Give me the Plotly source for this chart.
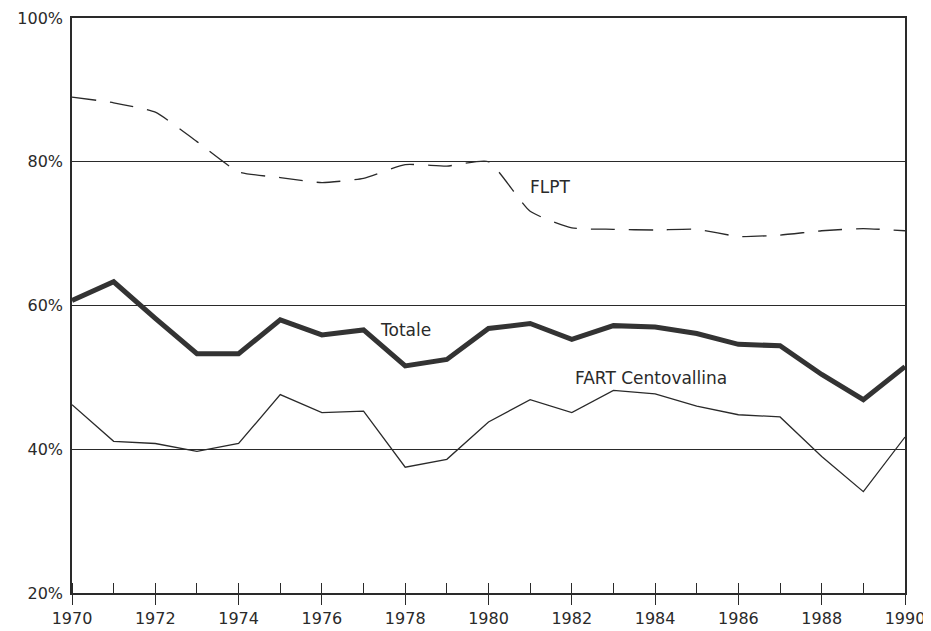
import plotly.graph_objects as go

# Quota di copertura dei costi, 1970-1990
years = list(range(1970, 1991))

flpt = [89.0, 88.2, 86.9, 82.8, 78.6, 77.8, 77.1, 77.7, 79.6, 79.4, 80.0,
        73.1, 70.8, 70.6, 70.5, 70.6, 69.6, 69.8, 70.4, 70.7, 70.4]
totale = [60.7, 63.3, 58.2, 53.3, 53.3, 58.0, 55.9, 56.6, 51.6, 52.5, 56.8,
          57.5, 55.3, 57.2, 57.0, 56.1, 54.6, 54.4, 50.4, 46.9, 51.5]
fart = [46.2, 41.1, 40.8, 39.7, 40.8, 47.6, 45.1, 45.3, 37.5, 38.6, 43.8,
        46.9, 45.1, 48.2, 47.7, 46.0, 44.8, 44.5, 39.0, 34.1, 41.7]

y_ticks = [20, 40, 60, 80, 100]
x_ticks = list(range(1970, 1991, 2))

INK = "#2a2a2a"
FONT = "DejaVu Sans, sans-serif"

fig = go.Figure()
fig.add_trace(go.Scatter(
    x=years, y=flpt, name="FLPT", mode="lines",
    line=dict(color=INK, width=1.3, dash="24px,14px", shape="spline", smoothing=0.5),
))
fig.add_trace(go.Scatter(
    x=years, y=totale, name="Totale", mode="lines",
    line=dict(color="#333333", width=5),
))
fig.add_trace(go.Scatter(
    x=years, y=fart, name="FART Centovallina", mode="lines",
    line=dict(color=INK, width=1.3),
))

# series labels written on the plot
for txt, xx, yy in [("FLPT", 1981.5, 76.5), ("Totale", 1978.0, 56.6),
                    ("FART Centovallina", 1983.9, 49.9)]:
    fig.add_annotation(x=xx, y=yy, text=txt, showarrow=False,
                       font=dict(family=FONT, size=17, color=INK))

# the page body adds an 8px margin, so the figure is sized to fit the window
fig.update_layout(
    width=923, height=623,
    paper_bgcolor="white", plot_bgcolor="white",
    margin=dict(l=64, r=26, t=10, b=38),
    showlegend=False,
    font=dict(family=FONT, size=16, color=INK),
)
fig.update_xaxes(
    range=[1970, 1990], tickvals=x_ticks, ticktext=[str(v) for v in x_ticks],
    ticks="outside", ticklen=10, tickwidth=1, tickcolor=INK,
    minor=dict(dtick=1, tick0=1970, ticks="inside", ticklen=10, tickcolor=INK, showgrid=False),
    showgrid=False, zeroline=False, automargin=False,
    showline=True, linecolor=INK, linewidth=1.5, mirror=True,
    tickfont=dict(size=16, family=FONT, color=INK),
)
fig.update_yaxes(
    range=[20, 100], tickvals=y_ticks, ticktext=[f"{v}%" for v in y_ticks],
    ticks="", showgrid=True, gridcolor=INK, gridwidth=1.2, zeroline=False,
    automargin=False, ticklabelstandoff=4,
    showline=True, linecolor=INK, linewidth=1.5, mirror=True,
    tickfont=dict(size=16, family=FONT, color=INK),
)

fig.write_html("out.html")
